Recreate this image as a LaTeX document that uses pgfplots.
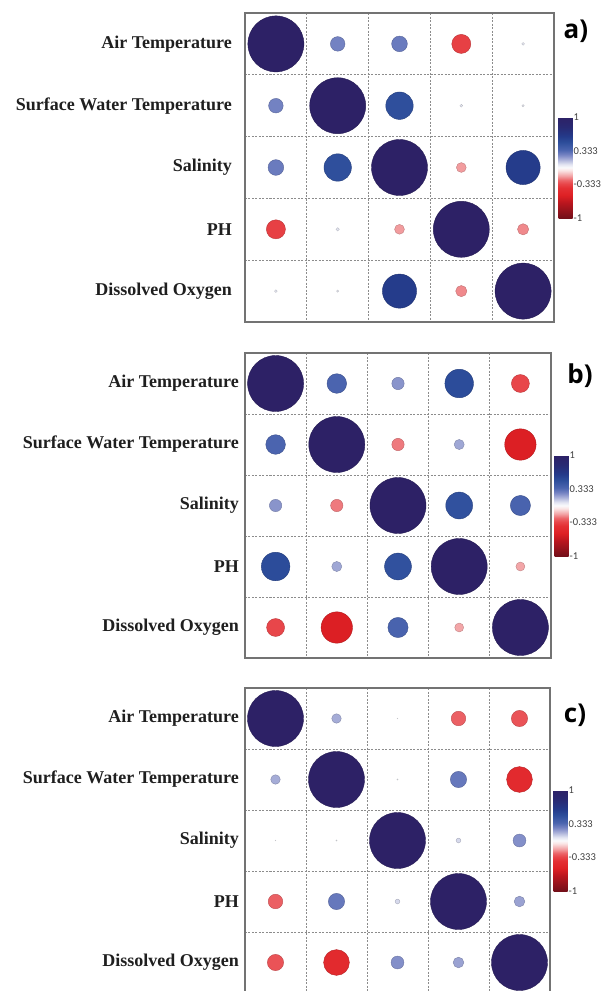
\documentclass[border=0pt]{standalone}
\usepackage{fontspec}
\setmainfont{Liberation Serif}
\newfontfamily\cbfont{Carlito}
\newfontfamily\panelfont{Open Sans}
\usepackage{pgfplots}
\usepackage{pgfplotstable}
\pgfplotsset{compat=1.18}

% colour scale of the correlations, position = (r+1)*100pt
\pgfplotsset{
  colormap={corr}{
    rgb255(0pt)=(115,15,25)
    rgb255(30pt)=(185,22,30)
    rgb255(45pt)=(222,32,36)
    rgb255(60pt)=(228,48,52)
    rgb255(68pt)=(232,70,74)
    rgb255(75pt)=(236,100,104)
    rgb255(83pt)=(242,160,162)
    rgb255(94pt)=(250,228,228)
    rgb255(100pt)=(250,250,252)
    rgb255(106pt)=(228,230,242)
    rgb255(117pt)=(165,172,215)
    rgb255(125pt)=(120,133,196)
    rgb255(135pt)=(75,100,175)
    rgb255(150pt)=(45,78,155)
    rgb255(162pt)=(36,58,138)
    rgb255(180pt)=(40,42,115)
    rgb255(200pt)=(45,33,102)
  },
  corrax/.style={
    scale only axis,
    xmin=-0.5, xmax=4.5, ymin=-0.5, ymax=4.5,
    y dir=reverse,
    xtick={0,1,2,3,4},
    xticklabels={{},{},{},{},{}},
    ytick={0,1,2,3,4},
    yticklabels={Air Temperature, Surface Water Temperature, Salinity, PH, Dissolved Oxygen},
    yticklabel style={font=\bfseries\fontsize{18}{20}\selectfont, text=black!88, inner sep=0pt},
    major tick length=0pt, minor tick length=0pt,
    minor xtick={0.5,1.5,2.5,3.5},
    minor ytick={0.5,1.5,2.5,3.5},
    xminorgrids=true, yminorgrids=true,
    xmajorgrids=false, ymajorgrids=false,
    minor grid style={draw=black!45, line width=0.7pt, dash pattern=on 2pt off 1.5pt},
    axis line style={draw=black!55, line width=1.6pt},
    colormap name=corr,
    point meta min=-1, point meta max=1,
    colorbar,
    colorbar style={
      scale only axis,
      at={(parent axis.east)}, anchor=west,
      width=14pt, height=101pt,
      ytick={-1,-0.333,0.333,1},
      yticklabels={-1,-0.333,0.333,1},
      yticklabel style={font=\cbfont\fontsize{10.5}{12}\selectfont, text=black!75, inner sep=0pt, xshift=1pt},
      major tick length=0pt,
      axis line style={draw=none},
    },
  },
  corrplot/.style={
    scatter, only marks, mark=*,
    point meta=\thisrow{r},
    visualization depends on={28*abs(\thisrow{r}) \as \rad},
    scatter/@pre marker code/.append style={/tikz/mark size=\rad},
  },
}

% x = column, y = row (0 Air T., 1 Surface Water T., 2 Salinity, 3 PH, 4 DO)
\pgfplotstableread{
x y r
0 0 1
1 0 0.26
2 0 0.28
3 0 -0.34
4 0 0.05
0 1 0.26
1 1 1
2 1 0.49
3 1 0.05
4 1 0.04
0 2 0.28
1 2 0.49
2 2 1
3 2 -0.175
4 2 0.61
0 3 -0.34
1 3 0.06
2 3 -0.175
3 3 1
4 3 -0.2
0 4 0.05
1 4 0.04
2 4 0.61
3 4 -0.2
4 4 1
}\corrA

\pgfplotstableread{
x y r
0 0 1
1 0 0.35
2 0 0.22
3 0 0.51
4 0 -0.32
0 1 0.35
1 1 1
2 1 -0.22
3 1 0.18
4 1 -0.56
0 2 0.22
1 2 -0.22
2 2 1
3 2 0.48
4 2 0.36
0 3 0.51
1 3 0.18
2 3 0.48
3 3 1
4 3 -0.16
0 4 -0.32
1 4 -0.56
2 4 0.36
3 4 -0.16
4 4 1
}\corrB

\pgfplotstableread{
x y r
0 0 1
1 0 0.17
2 0 0.01
3 0 -0.26
4 0 -0.29
0 1 0.17
1 1 1
2 1 0.02
3 1 0.29
4 1 -0.46
0 2 0.01
1 2 0.02
2 2 1
3 2 0.085
4 2 0.23
0 3 -0.26
1 3 0.29
2 3 0.085
3 3 1
4 3 0.19
0 4 -0.29
1 4 -0.46
2 4 0.23
3 4 0.19
4 4 1
}\corrC

\begin{document}
\begin{tikzpicture}
\useasboundingbox (0pt,0pt) rectangle (606pt,-991pt);

\begin{axis}[corrax, at={(245pt,-13pt)}, anchor=north west,
  width=309pt, height=309pt,
  yticklabel style={xshift=-13pt},
  colorbar style={xshift=-4pt}]
\addplot[corrplot] table[x=x, y=y] {\corrA};
\end{axis}

\begin{axis}[corrax, at={(245pt,-353pt)}, anchor=north west,
  width=306pt, height=305pt,
  yticklabel style={xshift=-6pt},
  colorbar style={xshift=-5pt}]
\addplot[corrplot] table[x=x, y=y] {\corrB};
\end{axis}

\begin{axis}[corrax, at={(245pt,-688pt)}, anchor=north west,
  width=305pt, height=305pt,
  yticklabel style={xshift=-6pt},
  colorbar style={xshift=-5pt}]
\addplot[corrplot] table[x=x, y=y] {\corrC};
\end{axis}

\node[anchor=base, font=\panelfont\bfseries\fontsize{26}{28}\selectfont] at (576pt,-38pt) {a)};
\node[anchor=base, font=\panelfont\bfseries\fontsize{26}{28}\selectfont] at (580pt,-383pt) {b)};
\node[anchor=base, font=\panelfont\bfseries\fontsize{26}{28}\selectfont] at (575pt,-722pt) {c)};
\end{tikzpicture}
\end{document}
